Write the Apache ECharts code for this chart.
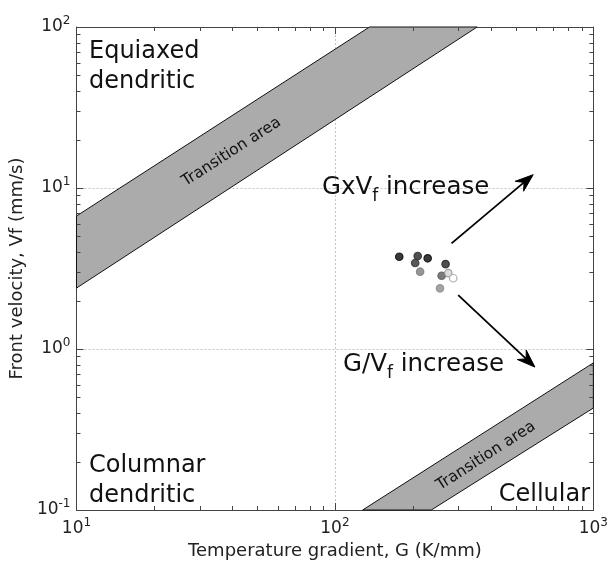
<!DOCTYPE html>
<html><head><meta charset="utf-8">
<script src="https://cdn.jsdelivr.net/npm/echarts@6/dist/echarts.min.js"></script>
<style>html,body{margin:0;padding:0;background:#fff}#c{width:611px;height:569px}</style>
</head><body><div id="c"></div>
<script>
// ---------- data ----------
const sampleG = [177.4, 209.1, 228.5, 204.4, 213.6, 268.0, 258.7, 274.5, 286.9, 255.0];
const sampleV = [3.74, 3.78, 3.66, 3.42, 3.02, 3.37, 2.85, 2.96, 2.75, 2.38];
const upperBandG = [10, 136, 355, 10];
const upperBandV = [6.7, 100, 100, 2.39];
const lowerBandG = [128, 1000, 1000, 236];
const lowerBandV = [0.1, 0.82, 0.43, 0.1];
const arrowTailG = [282.6, 299.9];
const arrowTailV = [4.53, 2.16];
const arrowTipG = [585.0, 594.0];
const arrowTipV = [12.1, 0.772];
const xDecades = [10, 100];
const yDecades = [0.1, 1, 10];
const minorMantissas = [2, 3, 4, 5, 6, 7, 8, 9];

// ---------- styles ----------
const pointFill = ['#080808', '#262626', '#080808', '#303030', '#7a7a7a', '#222222', '#5a5a5a', '#d4d4d4', '#ffffff', '#8c8c8c'];
const pointStroke = ['#080808', '#262626', '#080808', '#303030', '#7a7a7a', '#222222', '#5a5a5a', '#8e8e8e', '#9a9a9a', '#8c8c8c'];
const FONT = 'DejaVu Sans';
const frameColor = '#444';

const xMinor = [];
xDecades.forEach(d => minorMantissas.forEach(m => xMinor.push(m * d)));
const yMinor = [];
yDecades.forEach(d => minorMantissas.forEach(m => yMinor.push(+(m * d).toPrecision(3))));

function pow10Label(v) {
  const e = Math.round(Math.log10(v));
  return '{b|10}{s|' + e + '}';
}
const labelRich = {
  b: { fontFamily: FONT, fontSize: 17, lineHeight: 24, color: '#222' },
  s: { fontFamily: FONT, fontSize: 12, lineHeight: 12, verticalAlign: 'top', color: '#222' }
};

function bandSeries(gs, vs) {
  return {
    type: 'custom',
    coordinateSystem: 'cartesian2d',
    data: gs.map((g, i) => [g, vs[i]]),
    z: 1,
    renderItem: function (params, api) {
      if (params.dataIndex !== 0) return null;
      const pts = gs.map((g, i) => api.coord([g, vs[i]]));
      return { type: 'polygon', shape: { points: pts }, style: { fill: '#ababab', stroke: '#111', lineWidth: 1 } };
    }
  };
}

const subRich = { sub: { fontFamily: FONT, fontSize: 17, lineHeight: 17, verticalAlign: 'bottom', fill: '#111' } };

const option = {
  animation: false,
  backgroundColor: '#fff',
  grid: { left: 76, right: 15, top: 27, bottom: 59 },
  xAxis: [{
    type: 'log', logBase: 10, min: 10, max: 1000, position: 'bottom',
    name: 'Temperature gradient, G (K/mm)', nameLocation: 'middle', nameGap: 30,
    nameTextStyle: { fontFamily: FONT, fontSize: 18, color: '#222' },
    axisLine: { show: true, lineStyle: { color: frameColor, width: 1 } },
    axisTick: { show: true, inside: true, length: 7, lineStyle: { color: frameColor } },
    axisLabel: { formatter: pow10Label, rich: labelRich, margin: 7, showMinLabel: true, showMaxLabel: true },
    splitLine: { show: true, lineStyle: { color: '#c4c4c4', type: [2, 2], width: 1 } }
  }, {
    type: 'log', logBase: 10, min: 10, max: 1000, position: 'top',
    axisLine: { show: true, onZero: false, lineStyle: { color: frameColor, width: 1 } },
    axisTick: { show: true, inside: true, length: 7, lineStyle: { color: frameColor } },
    axisLabel: { show: false }, splitLine: { show: false }
  }],
  yAxis: [{
    type: 'log', logBase: 10, min: 0.1, max: 100, position: 'left',
    name: 'Front velocity, Vf (mm/s)', nameLocation: 'middle', nameGap: 46,
    nameTextStyle: { fontFamily: FONT, fontSize: 18, color: '#222' },
    axisLine: { show: true, lineStyle: { color: frameColor, width: 1 } },
    axisTick: { show: true, inside: true, length: 7, lineStyle: { color: frameColor } },
    axisLabel: { formatter: pow10Label, rich: labelRich, margin: 6, showMinLabel: true, showMaxLabel: true },
    splitLine: { show: true, lineStyle: { color: '#c4c4c4', type: [2, 2], width: 1 } }
  }, {
    type: 'log', logBase: 10, min: 0.1, max: 100, position: 'right',
    axisLine: { show: true, onZero: false, lineStyle: { color: frameColor, width: 1 } },
    axisTick: { show: true, inside: true, length: 7, lineStyle: { color: frameColor } },
    axisLabel: { show: false }, splitLine: { show: false }
  }],
  series: [
    bandSeries(upperBandG, upperBandV),
    bandSeries(lowerBandG, lowerBandV),
    {
      // minor ticks on all four sides
      type: 'custom', coordinateSystem: 'cartesian2d', z: 5, silent: true,
      data: [[10, 0.1]],
      renderItem: function (params, api) {
        const bl = api.coord([10, 0.1]);
        const tr = api.coord([1000, 100]);
        const children = [];
        const ls = { stroke: frameColor, lineWidth: 1 };
        xMinor.forEach(g => {
          const x = Math.round(api.coord([g, 1])[0]) + 0.5;
          children.push({ type: 'line', shape: { x1: x, y1: bl[1], x2: x, y2: bl[1] - 4 }, style: ls });
          children.push({ type: 'line', shape: { x1: x, y1: tr[1], x2: x, y2: tr[1] + 4 }, style: ls });
        });
        yMinor.forEach(v => {
          const y = Math.round(api.coord([100, v])[1]) + 0.5;
          children.push({ type: 'line', shape: { x1: bl[0], y1: y, x2: bl[0] + 4, y2: y }, style: ls });
          children.push({ type: 'line', shape: { x1: tr[0], y1: y, x2: tr[0] - 4, y2: y }, style: ls });
        });
        return { type: 'group', children: children };
      }
    },
    {
      // arrows
      type: 'custom', coordinateSystem: 'cartesian2d', z: 6, silent: true,
      data: arrowTailG.map((g, i) => [g, arrowTailV[i], arrowTipG[i], arrowTipV[i]]),
      renderItem: function (params, api) {
        const i = params.dataIndex;
        const a = api.coord([arrowTailG[i], arrowTailV[i]]);
        const b = api.coord([arrowTipG[i], arrowTipV[i]]);
        const dx = b[0] - a[0], dy = b[1] - a[1];
        const L = Math.sqrt(dx * dx + dy * dy);
        const ux = dx / L, uy = dy / L, nx = -uy, ny = ux;
        const hl = 18, hw = 6.5, notch = 12;
        const p1 = [b[0] - hl * ux + hw * nx, b[1] - hl * uy + hw * ny];
        const p2 = [b[0] - notch * ux, b[1] - notch * uy];
        const p3 = [b[0] - hl * ux - hw * nx, b[1] - hl * uy - hw * ny];
        return { type: 'group', children: [
          { type: 'line', shape: { x1: a[0], y1: a[1], x2: p2[0], y2: p2[1] }, style: { stroke: '#000', lineWidth: 1.8 } },
          { type: 'polygon', shape: { points: [b, p1, p2, p3] }, style: { fill: '#000', stroke: '#000', lineWidth: 1 } }
        ] };
      }
    },
    {
      type: 'scatter', symbol: 'circle', symbolSize: 7.5, z: 7,
      data: sampleG.map((g, i) => ({
        value: [g, sampleV[i]],
        itemStyle: { color: pointFill[i], borderColor: pointStroke[i], borderWidth: 1.2 }
      }))
    }
  ],
  graphic: [
    { type: 'text', left: 89, top: 37, z: 10, style: { text: 'Equiaxed\ndendritic', font: '24px "DejaVu Sans"', lineHeight: 30, fill: '#111' } },
    { type: 'text', left: 89, top: 451, z: 10, style: { text: 'Columnar\ndendritic', font: '24px "DejaVu Sans"', lineHeight: 30, fill: '#111' } },
    { type: 'text', right: 21, top: 483, z: 10, style: { text: 'Cellular', font: '24px "DejaVu Sans"', fill: '#111' } },
    { type: 'text', left: 322, top: 171, z: 10, style: { text: 'GxV{sub|f} increase', font: '24.5px "DejaVu Sans"', fill: '#111', rich: subRich, lineHeight: 34 } },
    { type: 'text', left: 343, top: 348, z: 10, style: { text: 'G/V{sub|f} increase', font: '24.5px "DejaVu Sans"', fill: '#111', rich: subRich, lineHeight: 34 } },
    { type: 'text', x: 231.5, y: 152, rotation: 0.572, z: 10, style: { text: 'Transition area', font: '15.5px "DejaVu Sans"', fill: '#111', align: 'center', verticalAlign: 'middle' } },
    { type: 'text', x: 486, y: 456, rotation: 0.572, z: 10, style: { text: 'Transition area', font: '15.5px "DejaVu Sans"', fill: '#111', align: 'center', verticalAlign: 'middle' } }
  ]
};
const chart = echarts.init(document.getElementById('c'), null, { renderer: 'canvas' });
chart.setOption(option);
</script></body></html>
